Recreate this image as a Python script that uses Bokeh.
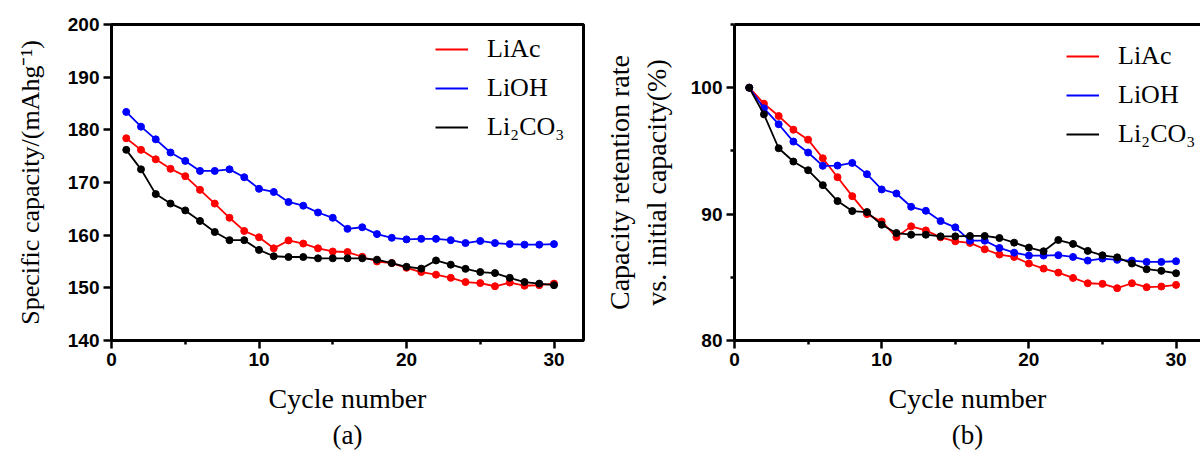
from bokeh.plotting import figure
from bokeh.layouts import row
from bokeh.models import FixedTicker, Legend, LegendItem, LinearAxis, Title, Range1d
from bokeh.embed import file_html
from bokeh.resources import INLINE

cycles = [1, 2, 3, 4, 5, 6, 7, 8, 9, 10, 11, 12, 13, 14, 15,
          16, 17, 18, 19, 20, 21, 22, 23, 24, 25, 26, 27, 28, 29, 30]

series_names = ["LiAc", "LiOH", "Li\u2082CO\u2083"]
series_colors = ["#ff0000", "#0000ff", "#000000"]

cap_liac = [178.4, 176.2, 174.4, 172.6, 171.2, 168.6, 166.0, 163.3, 160.8, 159.6,
            157.5, 159.0, 158.4, 157.5, 156.9, 156.8, 155.9, 155.0, 154.7, 153.8,
            153.0, 152.5, 151.9, 151.1, 150.9, 150.3, 151.0, 150.4, 150.5, 150.8]
cap_lioh = [183.4, 180.6, 178.2, 175.7, 174.1, 172.2, 172.2, 172.5, 171.0, 168.8,
            168.2, 166.3, 165.6, 164.3, 163.3, 161.2, 161.5, 160.2, 159.5, 159.2,
            159.3, 159.3, 159.05, 158.5, 158.9, 158.5, 158.3, 158.2, 158.2, 158.3]
cap_li2co3 = [176.2, 172.5, 167.8, 166.0, 164.7, 162.7, 160.6, 159.05, 159.05, 157.2,
              156.0, 155.85, 155.85, 155.6, 155.6, 155.6, 155.6, 155.35, 154.7, 154.0,
              153.65, 155.2, 154.4, 153.6, 153.0, 152.8, 151.9, 151.1, 150.8, 150.5]

ret_liac = [100.0, 98.74, 97.76, 96.68, 95.89, 94.42, 92.92, 91.42, 90.0, 89.42,
            88.18, 89.03, 88.71, 88.16, 87.85, 87.72, 87.22, 86.8, 86.61, 86.09,
            85.69, 85.37, 84.95, 84.53, 84.48, 84.14, 84.53, 84.22, 84.27, 84.4]
ret_lioh = [100.0, 98.37, 97.11, 95.74, 94.87, 93.82, 93.84, 94.05, 93.16, 91.95,
            91.63, 90.58, 90.26, 89.45, 88.95, 87.9, 87.9, 87.32, 86.95, 86.72,
            86.72, 86.75, 86.61, 86.32, 86.48, 86.38, 86.32, 86.22, 86.22, 86.27]
ret_li2co3 = [100.0, 97.89, 95.21, 94.16, 93.47, 92.29, 91.03, 90.24, 90.16, 89.16,
              88.5, 88.37, 88.37, 88.24, 88.24, 88.27, 88.27, 88.11, 87.74, 87.35,
              87.06, 87.95, 87.64, 87.09, 86.74, 86.58, 86.09, 85.64, 85.51, 85.32]

x_major = [0, 10, 20, 30]
x_minor = [5, 15, 25]
ya_major = [140, 150, 160, 170, 180, 190, 200]
yb_major = [80, 90, 100]
yb_minor = [85, 95, 105]

SERIF = "Liberation Serif"
SANS = "Liberation Sans"


def style_axis(ax, label, standoff, size="28px"):
    ax.axis_label = label
    ax.axis_line_width = 3
    ax.axis_line_color = "black"
    ax.major_tick_line_width = 2.5
    ax.minor_tick_line_width = 2.5
    ax.major_tick_in = 0
    ax.major_tick_out = 8
    ax.minor_tick_in = 0
    ax.minor_tick_out = 4
    ax.major_label_text_font = SANS
    ax.major_label_text_font_style = "bold"
    ax.major_label_text_font_size = "19px"
    ax.major_label_text_color = "black"
    ax.major_label_standoff = 4
    ax.axis_label_text_font = SERIF
    ax.axis_label_text_font_style = "normal"
    ax.axis_label_text_font_size = size
    ax.axis_label_text_color = "black"
    ax.axis_label_standoff = standoff


def make_panel(ys, yrange, xend, yticks, yminor, ylabel, tag, borders, legend_xy,
               ylab_standoff, ylab_size):
    left, right, top, bottom = borders
    p = figure(width=600, height=450, output_backend="svg", toolbar_location=None,
               x_range=Range1d(0, xend), y_range=Range1d(*yrange),
               min_border_left=left, min_border_right=right,
               min_border_top=top, min_border_bottom=bottom)
    p.xgrid.visible = False
    p.ygrid.visible = False
    p.background_fill_color = "white"
    p.border_fill_color = "white"
    p.xaxis.ticker = FixedTicker(ticks=x_major, minor_ticks=x_minor)
    p.yaxis.ticker = FixedTicker(ticks=yticks, minor_ticks=yminor)
    style_axis(p.xaxis[0], "Cycle number", 14)
    style_axis(p.yaxis[0], ylabel, ylab_standoff, ylab_size)

    items = []
    for name, col, y in zip(series_names, series_colors, ys):
        r1 = p.line(cycles, y, line_color=col, line_width=1.8)
        p.scatter(cycles, y, marker="circle", size=7, fill_color=col, line_color=col)
        # legend-only marker (no data points), smaller like the reference key
        r2 = p.scatter([], [], marker="circle", size=5.5, fill_color=col, line_color=col)
        items.append(LegendItem(label=name, renderers=[r1, r2]))

    leg = Legend(items=items, location=legend_xy)
    leg.label_text_font = SERIF
    leg.label_text_font_size = "26px"
    leg.label_text_color = "black"
    leg.glyph_width = 33
    leg.glyph_height = 30
    leg.label_height = 30
    leg.label_standoff = 19
    leg.spacing = 9
    leg.padding = 0
    leg.margin = 0
    leg.border_line_color = None
    leg.background_fill_alpha = 0
    p.add_layout(leg)

    p.add_layout(Title(text=tag, align="center", text_font=SERIF,
                       text_font_style="normal", text_font_size="27px",
                       text_color="black", standoff=2, offset=0), "below")
    return p


pa = make_panel([cap_liac, cap_lioh, cap_li2co3], (140, 200), 32, ya_major, [],
                "Specific capacity/(mAhg\u207b\u00b9)", "(a)",
                (111, 17, 24, 108), (324, 198), 20, "26px")
pa.outline_line_color = "black"
pa.outline_line_width = 3

pb = make_panel([ret_liac, ret_lioh, ret_li2co3], (80, 105), 31.66, yb_major, yb_minor,
                "Capacity retention rate\nvs. initial capacity(%)", "(b)",
                (132, 0, 24, 110), (332, 191), 16, "28px")
pb.outline_line_color = None
top_axis = LinearAxis(major_tick_line_color=None, minor_tick_line_color=None,
                      major_label_text_font_size="0px", axis_line_width=3,
                      axis_line_color="black")
top_axis.ticker = FixedTicker(ticks=[])
pb.add_layout(top_axis, "above")

layout = row(pa, pb)
open("out.html", "w").write(file_html(layout, INLINE))
